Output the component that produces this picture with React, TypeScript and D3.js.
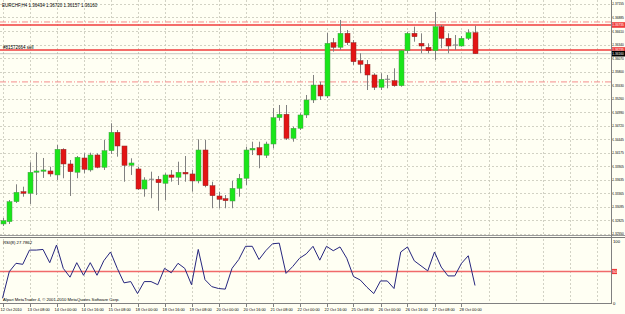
import * as d3 from "d3"

const priceTicks = [
  "1.37155", "1.36885", "1.36610", "1.36340", "1.36070", "1.35800",
  "1.35530", "1.35260", "1.34990", "1.34720", "1.34445", "1.34175",
  "1.33905", "1.33635", "1.33365", "1.33095", "1.32825", "1.32550",
]

const timeLabels = [
  "12 Oct 2010", "13 Oct 08:00", "14 Oct 00:00", "14 Oct 16:00", "15 Oct 08:00",
  "18 Oct 00:00", "18 Oct 16:00", "19 Oct 08:00", "20 Oct 00:00", "20 Oct 16:00",
  "21 Oct 08:00", "22 Oct 00:00", "22 Oct 16:00", "25 Oct 08:00", "26 Oct 00:00",
  "26 Oct 16:00", "27 Oct 08:00", "28 Oct 00:00",
]

const opens = [
  1.32751, 1.32797, 1.33197, 1.33397, 1.33365, 1.33786, 1.33806, 1.33812, 1.33732, 1.34246,
  1.33952, 1.33786, 1.34072, 1.33832, 1.34132, 1.33886, 1.34218, 1.34586, 1.34312, 1.33926,
  1.33852, 1.33451, 1.33646, 1.33646, 1.33565, 1.33732, 1.33686, 1.33786, 1.33752, 1.33612,
  1.34232, 1.33517, 1.33311, 1.33257, 1.33211, 1.33465, 1.33666, 1.34232, 1.34278, 1.34126,
  1.34352, 1.34879, 1.34947, 1.34466, 1.34667, 1.34933, 1.35233, 1.35533, 1.35313, 1.36380,
  1.36288, 1.36568, 1.36380, 1.36020, 1.35948, 1.35734, 1.35487, 1.35648, 1.35620, 1.35519,
  1.36220, 1.36568, 1.36368, 1.36288, 1.36220, 1.36701, 1.36468, 1.36334, 1.36314, 1.36468,
  1.36580,
]
const highs = [
  1.32871, 1.33231, 1.33545, 1.33497, 1.33986, 1.34186, 1.34072, 1.33898, 1.34332, 1.34266,
  1.34032, 1.34112, 1.34166, 1.34178, 1.34166, 1.34432, 1.34767, 1.34633, 1.34312, 1.34066,
  1.33898, 1.33686, 1.33798, 1.33712, 1.33766, 1.33832, 1.33998, 1.34112, 1.33832, 1.34446,
  1.34432, 1.33597, 1.33397, 1.33331, 1.33612, 1.33752, 1.34298, 1.34398, 1.34398, 1.34398,
  1.35073, 1.35133, 1.35133, 1.34699, 1.34967, 1.35333, 1.35734, 1.35599, 1.36574, 1.36474,
  1.36835, 1.36635, 1.36434, 1.36168, 1.36034, 1.35768, 1.35768, 1.35734, 1.35868, 1.36234,
  1.36600, 1.36701, 1.36568, 1.36368, 1.36995, 1.36735, 1.36568, 1.36534, 1.36514, 1.36649,
  1.36720,
]
const lows = [
  1.32711, 1.32751, 1.33171, 1.33297, 1.33151, 1.33331, 1.33672, 1.33698, 1.33632, 1.33666,
  1.33311, 1.33666, 1.33766, 1.33798, 1.33866, 1.33832, 1.34152, 1.34098, 1.33597, 1.33732,
  1.33431, 1.33297, 1.33265, 1.33017, 1.33231, 1.33597, 1.33531, 1.33597, 1.33397, 1.33565,
  1.33485, 1.33065, 1.33065, 1.33065, 1.33065, 1.33297, 1.33531, 1.34132, 1.33866, 1.34072,
  1.34266, 1.34819, 1.34432, 1.34398, 1.34633, 1.34873, 1.35173, 1.35233, 1.35273, 1.36200,
  1.36234, 1.36334, 1.35934, 1.35768, 1.35433, 1.35433, 1.35433, 1.35467, 1.35499, 1.35499,
  1.36168, 1.36400, 1.36168, 1.36168, 1.36034, 1.36268, 1.36168, 1.36234, 1.36300, 1.36434,
  1.36157,
]
const closes = [
  1.32817, 1.33197, 1.33385, 1.33365, 1.33786, 1.33812, 1.33832, 1.33752, 1.34246, 1.33952,
  1.33798, 1.34086, 1.33846, 1.34132, 1.33886, 1.34218, 1.34586, 1.34312, 1.33926, 1.33972,
  1.33451, 1.33632, 1.33646, 1.33577, 1.33732, 1.33686, 1.33786, 1.33752, 1.33612, 1.34232,
  1.33517, 1.33317, 1.33245, 1.33217, 1.33465, 1.33666, 1.34232, 1.34266, 1.34132, 1.34352,
  1.34879, 1.34947, 1.34466, 1.34667, 1.34933, 1.35233, 1.35533, 1.35313, 1.36368, 1.36288,
  1.36568, 1.36380, 1.36000, 1.35948, 1.35734, 1.35487, 1.35648, 1.35648, 1.35519, 1.36220,
  1.36568, 1.36500, 1.36314, 1.36220, 1.36701, 1.36468, 1.36314, 1.36334, 1.36468, 1.36580,
  1.36160,
]

const rsi = [
  7.5, 49.7, 63, 61.4, 84, 84, 85, 64, 92, 55,
  41, 64, 44, 64, 44, 67, 81, 55, 32, 34,
  15, 34, 34, 29, 55, 48, 63, 55, 29, 85,
  37, 26, 23, 22, 55, 69, 90, 90, 69, 83,
  94, 95, 47, 58, 71, 78, 90, 68, 90, 83,
  89, 71, 42, 36.5, 25, 15, 35, 35, 23, 81,
  89, 67, 59, 51, 81, 57, 43, 43, 63, 75,
  27.7862,
]

const redLevels = [1.36735, 1.36235]
const dashLevels = [1.36795, 1.35595]
const bid = 1.3616
const rsiLevel = 50

const W = 625
const H = 314
const AX = 611
const font = "'Liberation Sans', Arial, sans-serif"
// price labels are squeezed horizontally into the narrow strip right of the axis
const LBL_X = 612.3

export default function App() {
  const x = d3.scaleLinear().domain([0, 90]).range([2.5, 610])
  const y = d3.scaleLinear().domain([1.3255, 1.37155]).range([234, 4])
  const yr = d3.scaleLinear().domain([0, 100]).range([303, 240])

  const rsiLine = d3
    .line<number>()
    .x((_, i) => x(i))
    .y((d) => yr(d))

  const gridX = d3.range(0, 23).map((k) => k * 4)
  const bw = 5

  const priceLabel = (txt: string, yy: number, fill: string) => (
    <g transform={`translate(${LBL_X},${yy}) scale(0.76,1)`}>
      <text x={0} y={0} fontSize={4.2} fill={fill}>
        {txt}
      </text>
    </g>
  )

  return (
    <svg
      width={W}
      height={H}
      style={{ position: "fixed", left: 0, top: 0, background: "#fffff3" }}
      fontFamily={font}
    >
      <rect width={W} height={H} fill="#fffff3" />

      {/* grid */}
      <g stroke="#c6c6b8" strokeWidth={0.8} strokeDasharray="2,2">
        {priceTicks.map((t) => (
          <line key={t} x1={0} x2={AX} y1={Math.round(y(+t)) + 0.5} y2={Math.round(y(+t)) + 0.5} />
        ))}
        {gridX.map((i) => (
          <g key={i}>
            <line x1={Math.round(x(i)) + 0.5} x2={Math.round(x(i)) + 0.5} y1={0} y2={235} />
            <line x1={Math.round(x(i)) + 0.5} x2={Math.round(x(i)) + 0.5} y1={239} y2={303} />
          </g>
        ))}
      </g>

      {/* horizontal level lines */}
      {dashLevels.map((p) => (
        <line key={p} x1={0} x2={AX} y1={y(p)} y2={y(p)} stroke="#f58c8c" strokeWidth={1} strokeDasharray="6,2,1,2" />
      ))}
      <line x1={0} x2={AX} y1={y(bid)} y2={y(bid)} stroke="#b0b0b0" strokeWidth={0.7} />
      {redLevels.map((p) => (
        <line key={p} x1={0} x2={AX} y1={y(p)} y2={y(p)} stroke="#f03c3c" strokeWidth={1.4} />
      ))}

      {/* candles */}
      {opens.map((o, i) => {
        const c = closes[i]
        const cx = Math.round(x(i)) + 0.5
        const top = y(Math.max(o, c))
        const bot = y(Math.min(o, c))
        const up = c > o
        const flat = Math.abs(c - o) < 0.00002
        return (
          <g key={i}>
            <line x1={cx} x2={cx} y1={y(highs[i])} y2={y(lows[i])} stroke="#808080" strokeWidth={1} />
            {flat ? (
              <line x1={cx - bw / 2} x2={cx + bw / 2} y1={top} y2={top} stroke="#808080" strokeWidth={1} />
            ) : (
              <rect
                x={cx - bw / 2}
                y={top}
                width={bw}
                height={Math.max(1, bot - top)}
                fill={up ? "#19e619" : "#e31414"}
                stroke={up ? "#4f9a4f" : "#8a2a2a"}
                strokeWidth={0.5}
              />
            )}
          </g>
        )
      })}

      {/* texts in price panel */}
      <text x={2} y={6.5} fontSize={4.5} fill="#000">
        EURCHF,H4  1.36434 1.36720 1.36157 1.36160
      </text>
      <text x={3} y={48.5} fontSize={4.5} fill="#000">
        #81572664 sell
      </text>

      {/* panel separator */}
      <rect x={0} y={235} width={W} height={4} fill="#fffff3" />
      <line x1={0} x2={W} y1={235.5} y2={235.5} stroke="#9a9a9a" strokeWidth={1} />
      <line x1={0} x2={W} y1={237.5} y2={237.5} stroke="#7a7a7a" strokeWidth={1} />

      {/* RSI panel */}
      <line x1={0} x2={AX} y1={yr(rsiLevel)} y2={yr(rsiLevel)} stroke="#f06a6a" strokeWidth={1.6} />
      <path d={rsiLine(rsi) ?? ""} fill="none" stroke="#26267e" strokeWidth={1} />
      <text x={3} y={243.8} fontSize={4.3} fill="#000">
        RSI(8) 27.7862
      </text>
      <text x={3} y={301} fontSize={4.2} fill="#000">
        Alpari MetaTrader 4, © 2001-2010 MetaQuotes Software Corp.
      </text>

      {/* right axis */}
      <line x1={AX + 0.5} x2={AX + 0.5} y1={0} y2={304} stroke="#808080" strokeWidth={1} />
      {priceTicks.map((t) => (
        <g key={t}>
          <line x1={AX} x2={AX + 1.5} y1={Math.round(y(+t)) + 0.5} y2={Math.round(y(+t)) + 0.5} stroke="#808080" />
          {priceLabel(t, Math.max(5, y(+t) + 1.4), "#000")}
        </g>
      ))}
      <text x={613} y={yr(100) + 3.2} fontSize={4.2} fill="#000">100</text>
      <text x={613} y={yr(0) + 1.5} fontSize={4.2} fill="#000">0</text>
      {redLevels.map((p) => (
        <g key={p}>
          <rect x={AX + 1} y={y(p) - 2.8} width={13} height={5.6} fill="#f03c3c" />
          {priceLabel(p.toFixed(5), y(p) + 1.4, "#fff")}
        </g>
      ))}
      <rect x={AX + 1} y={y(bid) - 2.8} width={13} height={5.6} fill="#000" />
      {priceLabel(bid.toFixed(5), y(bid) + 1.4, "#fff")}
      <rect x={AX + 1} y={yr(rsiLevel) - 2.6} width={5} height={5.2} fill="#f03c3c" />
      <text x={AX + 1.5} y={yr(rsiLevel) + 1.6} fontSize={4.2} fill="#fff">{rsiLevel}</text>

      {/* bottom axis */}
      <line x1={0} x2={AX} y1={303.5} y2={303.5} stroke="#808080" strokeWidth={1} />
      <g fontSize={3.9} fill="#000">
        {timeLabels.map((t, k) => (
          <g key={t}>
            <line x1={Math.round(x(k * 4)) + 0.5} x2={Math.round(x(k * 4)) + 0.5} y1={304} y2={307} stroke="#808080" />
            <text x={Math.max(0.5, x(k * 4) - 2)} y={311}>{t}</text>
          </g>
        ))}
      </g>
    </svg>
  )
}
